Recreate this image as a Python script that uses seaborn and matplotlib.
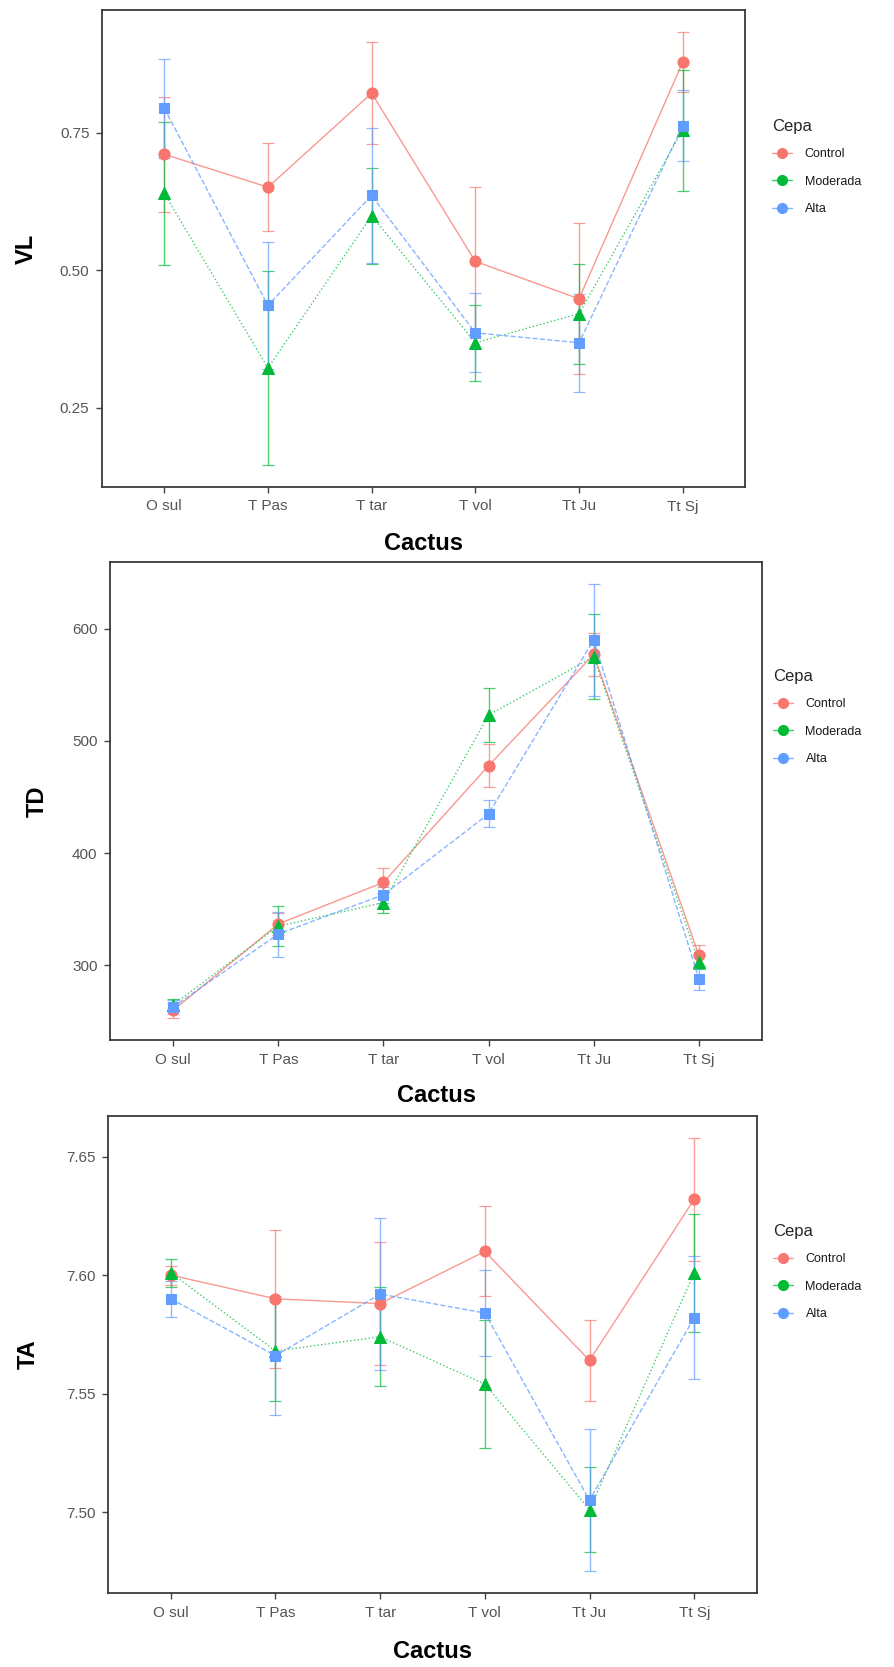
import matplotlib
matplotlib.use("Agg")
import matplotlib.pyplot as plt
import matplotlib.colors as mcolors
import seaborn as sns
import numpy as np
import pandas as pd
from matplotlib.lines import Line2D
from matplotlib.ticker import MultipleLocator, FormatStrFormatter

# ---------------- data ----------------
cactus = ["O sul", "T Pas", "T tar", "T vol", "Tt Ju", "Tt Sj"]
cepa = ["Control", "Moderada", "Alta"]

vl_control = [0.711, 0.651, 0.822, 0.516, 0.448, 0.879]
vl_control_err = [0.105, 0.080, 0.093, 0.135, 0.137, 0.055]
vl_moderada = [0.640, 0.322, 0.599, 0.368, 0.421, 0.755]
vl_moderada_err = [0.130, 0.177, 0.087, 0.069, 0.091, 0.110]
vl_alta = [0.795, 0.436, 0.636, 0.386, 0.368, 0.763]
vl_alta_err = [0.090, 0.115, 0.123, 0.072, 0.089, 0.065]

td_control = [260, 337, 374, 478, 577, 309]
td_control_err = [7, 10, 13, 19, 19, 9]
td_moderada = [265, 335, 356, 523, 575, 303]
td_moderada_err = [5, 18, 9, 24, 38, 6]
td_alta = [263, 328, 363, 435, 590, 288]
td_alta_err = [6, 20, 7, 12, 50, 10]

ta_control = [7.600, 7.590, 7.588, 7.610, 7.564, 7.632]
ta_control_err = [0.004, 0.029, 0.026, 0.019, 0.017, 0.026]
ta_moderada = [7.601, 7.568, 7.574, 7.554, 7.501, 7.601]
ta_moderada_err = [0.006, 0.021, 0.021, 0.027, 0.018, 0.025]
ta_alta = [7.590, 7.566, 7.592, 7.584, 7.505, 7.582]
ta_alta_err = [0.0075, 0.025, 0.032, 0.018, 0.030, 0.026]

# ---------------- style ----------------
sns.set_theme(style="white")
plt.rcParams["font.family"] = ["Liberation Sans", "DejaVu Sans"]

colors = {"Control": "#F8766D", "Moderada": "#00BA38", "Alta": "#619CFF"}
markers = {"Control": "o", "Moderada": "^", "Alta": "s"}
lstyles = {"Control": "-", "Moderada": ":", "Alta": "--"}
msizes = {"Control": 8, "Moderada": 8.5, "Alta": 7.5}

W, H = 894, 1667
fig = plt.figure(figsize=(W / 100, H / 100), dpi=100)


def box(l, r, t, b):
    return [l / W, 1 - b / H, (r - l) / W, (b - t) / H]


panels = [
    dict(name="VL", box=(102, 745, 10, 487),
         vals=[vl_control, vl_moderada, vl_alta],
         errs=[vl_control_err, vl_moderada_err, vl_alta_err],
         major=0.25, fmt="%.2f", ylab_x=26, xlab_y=543, leg=(772, 119)),
    dict(name="TD", box=(110, 762, 562, 1040),
         vals=[td_control, td_moderada, td_alta],
         errs=[td_control_err, td_moderada_err, td_alta_err],
         major=100, fmt="%d", ylab_x=37, xlab_y=1095, leg=(773, 669)),
    dict(name="TA", box=(108, 757, 1116, 1593),
         vals=[ta_control, ta_moderada, ta_alta],
         errs=[ta_control_err, ta_moderada_err, ta_alta_err],
         major=0.05, fmt="%.2f", ylab_x=28, xlab_y=1651, leg=(773, 1224)),
]

for p in panels:
    ax = fig.add_axes(box(*p["box"]))
    rows = []
    for g, v, e in zip(cepa, p["vals"], p["errs"]):
        for c, vi, ei in zip(cactus, v, e):
            rows.append({"Cactus": c, "Cepa": g, "val": vi, "err": ei})
    df = pd.DataFrame(rows)

    for g in cepa:
        sub = df[df["Cepa"] == g]
        xpos = [cactus.index(c) for c in sub["Cactus"]]
        ax.errorbar(xpos, sub["val"], yerr=sub["err"], fmt="none",
                    ecolor=colors[g], elinewidth=1.0, capsize=4,
                    capthick=0.9, alpha=0.7, zorder=1)

    for g in cepa:
        sub = df[df["Cepa"] == g]
        n_before = len(ax.lines)
        sns.pointplot(data=sub, x="Cactus", y="val", order=cactus,
                      color=colors[g], markers=markers[g],
                      linestyles=lstyles[g], errorbar=None, ax=ax,
                      markersize=msizes[g], linewidth=1.0)
        # connecting line lighter than the markers
        light = mcolors.to_rgba(colors[g], 0.75)
        for ln in ax.lines[n_before:]:
            ln.set_color(light)
            ln.set_markerfacecolor(colors[g])
            ln.set_markeredgecolor(colors[g])

    lo = float((df["val"] - df["err"]).min())
    hi = float((df["val"] + df["err"]).max())
    pad = (hi - lo) * 0.05
    ax.set_ylim(lo - pad, hi + pad)
    ax.set_xlim(-0.6, len(cactus) - 0.4)
    ax.yaxis.set_major_locator(MultipleLocator(p["major"]))
    ax.yaxis.set_major_formatter(FormatStrFormatter(p["fmt"]))
    ax.set_xlabel("")
    ax.set_ylabel("")
    ax.tick_params(axis="both", which="major", direction="out", length=4,
                   width=1, color="#444444", labelsize=11,
                   labelcolor="#555555", pad=5, bottom=True, left=True)
    for s in ax.spines.values():
        s.set_color("#3a3a3a")
        s.set_linewidth(1.3)
    ax.grid(False)
    if ax.get_legend() is not None:
        ax.get_legend().remove()

    l, r, t, b = p["box"]
    fig.text(p["ylab_x"] / W, 1 - ((t + b) / 2) / H, p["name"], rotation=90,
             ha="center", va="center", fontsize=17, fontweight="bold",
             color="black")
    fig.text(((l + r) / 2) / W, 1 - p["xlab_y"] / H, "Cactus",
             ha="center", va="center", fontsize=17, fontweight="bold",
             color="black")

    handles = [Line2D([], [], color=mcolors.to_rgba(colors[g], 0.75),
                      marker="o", markersize=7, markerfacecolor=colors[g],
                      markeredgecolor=colors[g], linewidth=1.0) for g in cepa]
    leg = ax.legend(handles, cepa, title="Cepa", loc="upper left",
                    bbox_to_anchor=(p["leg"][0] / W, 1 - p["leg"][1] / H),
                    bbox_transform=fig.transFigure, frameon=False,
                    borderpad=0, borderaxespad=0, fontsize=9,
                    title_fontsize=12, handlelength=1.6,
                    handletextpad=1.0, labelspacing=1.25,
                    alignment="left")
    leg._legend_box.sep = 10
    for txt in leg.get_texts():
        txt.set_color("#1a1a1a")

fig.savefig("out.png", dpi=100, facecolor="white")
